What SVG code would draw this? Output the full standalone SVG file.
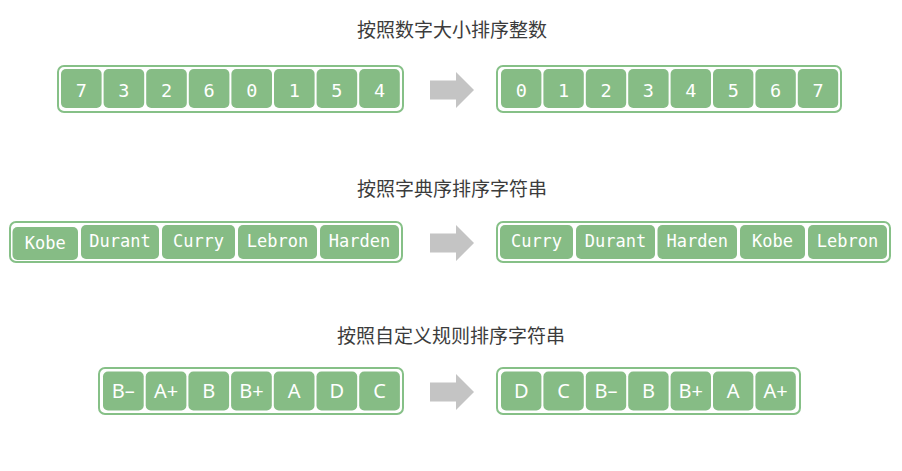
<svg xmlns="http://www.w3.org/2000/svg" width="902" height="471" viewBox="0 0 902 471">
<style>
.title{font-family:"Noto Sans CJK SC","Noto Sans",sans-serif;font-size:19px;fill:#3c3c3c;text-anchor:middle}
.box{fill:#ffffff;stroke:#86c087;stroke-width:2}
.cell{fill:#86bc85}
.mono{font-family:"DejaVu Sans Mono","Liberation Mono",monospace;font-size:17px;fill:#ffffff;text-anchor:middle}
.digit{font-family:"DejaVu Sans Mono","Liberation Mono",monospace;font-size:18.5px;fill:#ffffff;text-anchor:middle}
.sans{font-family:"Noto Sans","Open Sans",sans-serif;font-size:20px;fill:#ffffff;text-anchor:middle}
.arrow{fill:#c4c4c4}
</style>
<defs>
<path id="arr" d="M0,-9.5 H26 V-18 L44,0 L26,18 V9.5 H0 Z"/>
</defs>
<text class="title" x="452" y="37">按照数字大小排序整数</text>
<text class="title" x="452" y="196">按照字典序排序字符串</text>
<text class="title" x="451" y="343">按照自定义规则排序字符串</text>

<g id="connectors">
<use href="#arr" class="arrow" x="430" y="90"/>
<use href="#arr" class="arrow" x="430" y="243"/>
<use href="#arr" class="arrow" x="430" y="392"/>
</g>

<g id="row1-input">
<rect class="box" x="58" y="66" width="345" height="46" rx="6"/>
<rect class="cell" x="61" y="69" width="40.6" height="39" rx="5"/><text class="digit" x="81.3" y="97">7</text>
<rect class="cell" x="103.6" y="69" width="40.6" height="39" rx="5"/><text class="digit" x="123.9" y="97">3</text>
<rect class="cell" x="146.2" y="69" width="40.6" height="39" rx="5"/><text class="digit" x="166.5" y="97">2</text>
<rect class="cell" x="188.8" y="69" width="40.6" height="39" rx="5"/><text class="digit" x="209.1" y="97">6</text>
<rect class="cell" x="231.4" y="69" width="40.6" height="39" rx="5"/><text class="digit" x="251.7" y="97">0</text>
<rect class="cell" x="274" y="69" width="40.6" height="39" rx="5"/><text class="digit" x="294.3" y="97">1</text>
<rect class="cell" x="316.6" y="69" width="40.6" height="39" rx="5"/><text class="digit" x="336.9" y="97">5</text>
<rect class="cell" x="359.2" y="69" width="40.6" height="39" rx="5"/><text class="digit" x="379.5" y="97">4</text>
</g>

<g id="row1-output">
<rect class="box" x="497" y="66" width="344" height="46" rx="6"/>
<rect class="cell" x="501" y="69" width="40.4" height="39" rx="5"/><text class="digit" x="521.2" y="97">0</text>
<rect class="cell" x="543.4" y="69" width="40.4" height="39" rx="5"/><text class="digit" x="563.6" y="97">1</text>
<rect class="cell" x="585.8" y="69" width="40.4" height="39" rx="5"/><text class="digit" x="606" y="97">2</text>
<rect class="cell" x="628.2" y="69" width="40.4" height="39" rx="5"/><text class="digit" x="648.4" y="97">3</text>
<rect class="cell" x="670.6" y="69" width="40.4" height="39" rx="5"/><text class="digit" x="690.8" y="97">4</text>
<rect class="cell" x="713" y="69" width="40.4" height="39" rx="5"/><text class="digit" x="733.2" y="97">5</text>
<rect class="cell" x="755.4" y="69" width="40.4" height="39" rx="5"/><text class="digit" x="775.6" y="97">6</text>
<rect class="cell" x="797.8" y="69" width="40.4" height="39" rx="5"/><text class="digit" x="818" y="97">7</text>
</g>

<g id="row2-input">
<rect class="box" x="10" y="222" width="392" height="40" rx="6"/>
<rect class="cell" x="12.5" y="227" width="65.5" height="33" rx="5"/><text class="mono" x="45.2" y="249">Kobe</text>
<rect class="cell" x="81" y="225" width="78" height="34" rx="5"/><text class="mono" x="120" y="247">Durant</text>
<rect class="cell" x="162" y="225" width="73" height="34" rx="5"/><text class="mono" x="198.5" y="247">Curry</text>
<rect class="cell" x="238" y="225" width="79" height="34" rx="5"/><text class="mono" x="277.5" y="247">Lebron</text>
<rect class="cell" x="320" y="225" width="79" height="34" rx="5"/><text class="mono" x="359.5" y="247">Harden</text>
</g>

<g id="row2-output">
<rect class="box" x="497" y="222" width="393" height="40" rx="6"/>
<rect class="cell" x="500" y="225" width="73" height="34" rx="5"/><text class="mono" x="536.5" y="247">Curry</text>
<rect class="cell" x="576" y="225" width="79" height="34" rx="5"/><text class="mono" x="615.5" y="247">Durant</text>
<rect class="cell" x="657.5" y="225" width="79.5" height="34" rx="5"/><text class="mono" x="697.2" y="247">Harden</text>
<rect class="cell" x="740" y="225" width="65" height="34" rx="5"/><text class="mono" x="772.5" y="247">Kobe</text>
<rect class="cell" x="808" y="225" width="79" height="34" rx="5"/><text class="mono" x="847.5" y="247">Lebron</text>
</g>

<g id="row3-input">
<rect class="box" x="99" y="368" width="304" height="46" rx="6"/>
<rect class="cell" x="103" y="371.5" width="40.7" height="39" rx="5"/><text class="sans" x="123.3" y="398">B–</text>
<rect class="cell" x="145.7" y="371.5" width="40.7" height="39" rx="5"/><text class="sans" x="166" y="398">A+</text>
<rect class="cell" x="188.4" y="371.5" width="40.7" height="39" rx="5"/><text class="sans" x="208.7" y="398">B</text>
<rect class="cell" x="231.1" y="371.5" width="40.7" height="39" rx="5"/><text class="sans" x="251.4" y="398">B+</text>
<rect class="cell" x="273.8" y="371.5" width="40.7" height="39" rx="5"/><text class="sans" x="294.1" y="398">A</text>
<rect class="cell" x="316.5" y="371.5" width="40.7" height="39" rx="5"/><text class="sans" x="336.8" y="398">D</text>
<rect class="cell" x="359.2" y="371.5" width="40.7" height="39" rx="5"/><text class="sans" x="379.5" y="398">C</text>
</g>

<g id="row3-output">
<rect class="box" x="497" y="368" width="303" height="46" rx="6"/>
<rect class="cell" x="501" y="371.5" width="40.4" height="39" rx="5"/><text class="sans" x="521.2" y="398">D</text>
<rect class="cell" x="543.4" y="371.5" width="40.4" height="39" rx="5"/><text class="sans" x="563.6" y="398">C</text>
<rect class="cell" x="585.8" y="371.5" width="40.4" height="39" rx="5"/><text class="sans" x="606" y="398">B–</text>
<rect class="cell" x="628.2" y="371.5" width="40.4" height="39" rx="5"/><text class="sans" x="648.4" y="398">B</text>
<rect class="cell" x="670.6" y="371.5" width="40.4" height="39" rx="5"/><text class="sans" x="690.8" y="398">B+</text>
<rect class="cell" x="713" y="371.5" width="40.4" height="39" rx="5"/><text class="sans" x="733.2" y="398">A</text>
<rect class="cell" x="755.4" y="371.5" width="40.4" height="39" rx="5"/><text class="sans" x="775.6" y="398">A+</text>
</g>
</svg>
